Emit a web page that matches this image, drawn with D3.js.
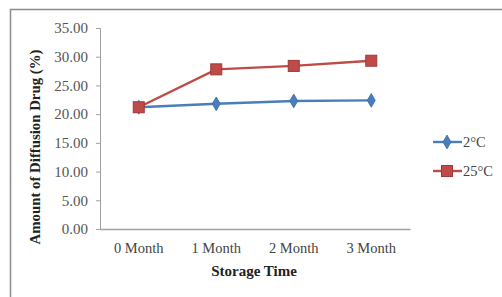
<!DOCTYPE html>
<html><head><meta charset="utf-8">
<script src="https://cdn.jsdelivr.net/npm/d3@7"></script>
<style>body{margin:0;background:#fff}svg{display:block}text{font-family:"Liberation Serif","Times New Roman",serif}</style>
</head><body>
<script>
const categories = ["0 Month","1 Month","2 Month","3 Month"];
const seriesNames = ["2°C","25°C"];
const values2C = [21.2, 21.8, 22.3, 22.4];
const values25C = [21.2, 27.8, 28.4, 29.3];
const yTicks = [0,5,10,15,20,25,30,35];
const colors = ["#4a7ebb","#be4b48"];

const W=502,H=297;
const svg=d3.select("body").append("svg").attr("width",W).attr("height",H);
svg.append("rect").attr("width",W).attr("height",H).attr("fill","#fff");
svg.append("path").attr("d",`M10.5,${H+2} V9.5 H${W+2}`).attr("fill","none").attr("stroke","#8c8c8c").attr("stroke-width",1.5);

const x=d3.scaleBand().domain(categories).range([100,410]);
const y=d3.scaleLinear().domain([0,35]).range([229,28]);

const yAxis=svg.append("g").attr("transform","translate(100,0)")
  .call(d3.axisLeft(y).tickValues(yTicks).tickFormat(d3.format(".2f")).tickSize(4).tickPadding(8));
yAxis.select(".domain").attr("stroke","#a0a0a0");
yAxis.selectAll(".tick line").attr("stroke","#a0a0a0");
yAxis.selectAll("text").attr("font-size","15px").attr("fill","#555");

const xAxis=svg.append("g").attr("transform","translate(0,229)")
  .call(d3.axisBottom(x).tickSize(0).tickPadding(14));
xAxis.select(".domain").attr("stroke","#a0a0a0").attr("stroke-width",1.5);
xAxis.selectAll("text").attr("font-size","14.5px").attr("fill","#444");

svg.append("text").attr("x",254).attr("y",276).attr("text-anchor","middle")
  .attr("font-size","15px").attr("font-weight","bold").attr("fill","#222").text("Storage Time");
svg.append("text").attr("transform","translate(40,147) rotate(-90)").attr("text-anchor","middle")
  .attr("font-size","14.8px").attr("font-weight","bold").attr("fill","#222").text("Amount of Diffusion Drug (%)");

const data=[values2C,values25C];
const line=d3.line().x((d,i)=>x(categories[i])+x.bandwidth()/2).y(d=>y(d));
data.forEach((vals,si)=>{
  svg.append("path").datum(vals).attr("d",line).attr("fill","none").attr("stroke",colors[si]).attr("stroke-width",2.4);
});
function marker(g,si,cx,cy){
  if(si===0){
    g.append("path").attr("d",d3.symbol(d3.symbolDiamond,55)()).attr("transform",`translate(${cx},${cy})`)
     .attr("fill",colors[0]).attr("stroke","#3a6aa5").attr("stroke-width",0.8);
  } else {
    g.append("rect").attr("x",cx-5.5).attr("y",cy-5.5).attr("width",11).attr("height",11)
     .attr("fill",colors[1]).attr("stroke","#9c3a38").attr("stroke-width",1);
  }
}
data.forEach((vals,si)=>{
  vals.forEach((v,i)=>marker(svg,si,x(categories[i])+x.bandwidth()/2,y(v)));
});
const ly=[142,171];
seriesNames.forEach((n,si)=>{
  svg.append("line").attr("x1",433).attr("x2",462).attr("y1",ly[si]).attr("y2",ly[si]).attr("stroke",colors[si]).attr("stroke-width",2.4);
  marker(svg,si,447,ly[si]);
  svg.append("text").attr("x",463).attr("y",ly[si]+5).attr("font-size","14.5px").attr("fill","#444").text(n);
});
</script>
</body></html>
